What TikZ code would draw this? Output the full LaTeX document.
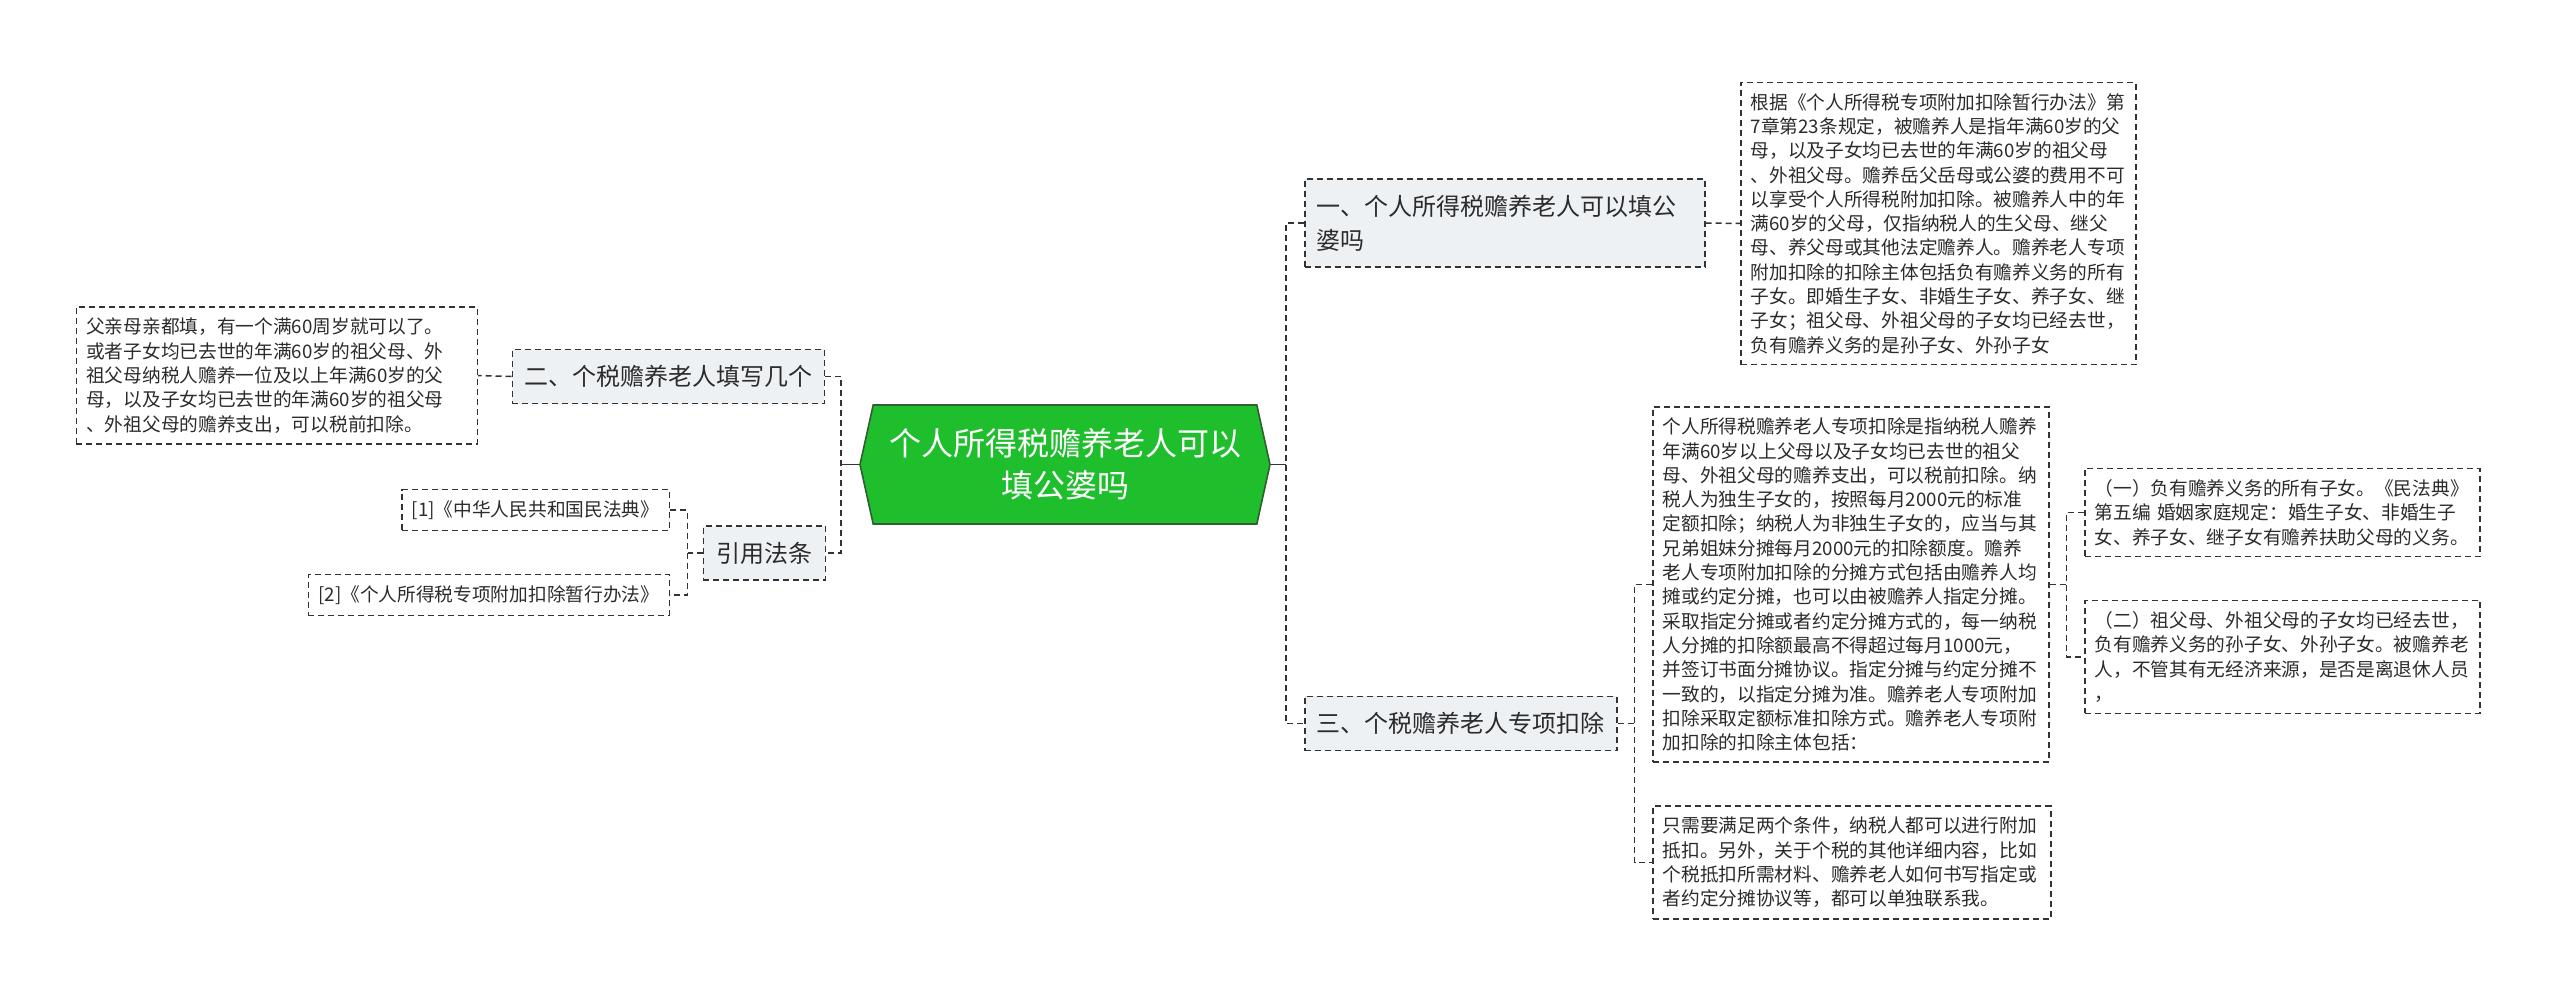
\documentclass[tikz,border=0pt]{standalone}
\usepackage{fontspec}
\setmainfont{Noto Sans CJK SC}
\usetikzlibrary{shapes.symbols}
\definecolor{brfill}{HTML}{EEF1F4}
\definecolor{rootgreen}{HTML}{1FBE2C}
\definecolor{rootline}{HTML}{2F5E30}
\definecolor{linkgray}{HTML}{333333}
\definecolor{txt}{HTML}{2B2B2B}

\begin{document}
\begin{tikzpicture}[x=1pt, y=-1pt,
  link/.style={draw=linkgray, line width=1.5pt, dash pattern=on 6pt off 4pt},
  leaf/.style={link, text=txt, align=left, inner xsep=10pt, inner ysep=11pt, font={\fontsize{18.7pt}{24.3pt}\selectfont}},
  branch/.style={leaf, fill=brfill, inner xsep=12pt, inner ysep=16pt, font={\fontsize{24pt}{34pt}\selectfont}},
  rootbox/.style={signal, signal to=east and west, signal pointer angle=155, draw=rootline, line width=1.6pt, fill=rootgreen, text=white, align=center, minimum width=410pt, minimum height=119pt, font={\fontsize{32pt}{42pt}\selectfont}}]
  \useasboundingbox (0,0) rectangle (2560,1001);

  \node[rootbox] (root) at (1065,464.5) {个人所得税赡养老人可以\\填公婆吗};

  \node[branch, anchor=west, text width=376pt] (yi) at (1304,223) {一、个人所得税赡养老人可以填公\\婆吗};
  \node[leaf, anchor=west, text width=375pt] (yitext) at (1740,223.5) {根据《个人所得税专项附加扣除暂行办法》第\\7章第23条规定，被赡养人是指年满60岁的父\\母，以及子女均已去世的年满60岁的祖父母\\、外祖父母。赡养岳父岳母或公婆的费用不可\\以享受个人所得税附加扣除。被赡养人中的年\\满60岁的父母，仅指纳税人的生父母、继父\\母、养父母或其他法定赡养人。赡养老人专项\\附加扣除的扣除主体包括负有赡养义务的所有\\子女。即婚生子女、非婚生子女、养子女、继\\子女；祖父母、外祖父母的子女均已经去世，\\负有赡养义务的是孙子女、外孙子女};

  \node[branch, anchor=west] (san) at (1304,723.5) {三、个税赡养老人专项扣除};
  \node[leaf, anchor=west, text width=376pt] (santext) at (1652,584.5) {个人所得税赡养老人专项扣除是指纳税人赡养\\年满60岁以上父母以及子女均已去世的祖父\\母、外祖父母的赡养支出，可以税前扣除。纳\\税人为独生子女的，按照每月2000元的标准\\定额扣除；纳税人为非独生子女的，应当与其\\兄弟姐妹分摊每月2000元的扣除额度。赡养\\老人专项附加扣除的分摊方式包括由赡养人均\\摊或约定分摊，也可以由被赡养人指定分摊。\\采取指定分摊或者约定分摊方式的，每一纳税\\人分摊的扣除额最高不得超过每月1000元，\\并签订书面分摊协议。指定分摊与约定分摊不\\一致的，以指定分摊为准。赡养老人专项附加\\扣除采取定额标准扣除方式。赡养老人专项附\\加扣除的扣除主体包括：};
  \node[leaf, anchor=west, text width=378pt] (sanmore) at (1652,862.5) {只需要满足两个条件，纳税人都可以进行附加\\抵扣。另外，关于个税的其他详细内容，比如\\个税抵扣所需材料、赡养老人如何书写指定或\\者约定分摊协议等，都可以单独联系我。};
  \node[leaf, anchor=west, text width=375pt] (zinv) at (2084,512.5) {（一）负有赡养义务的所有子女。《民法典》\\第五编 婚姻家庭规定：婚生子女、非婚生子\\女、养子女、继子女有赡养扶助父母的义务。};
  \node[leaf, anchor=west, text width=375pt] (sunzinv) at (2084,657) {（二）祖父母、外祖父母的子女均已经去世，\\负有赡养义务的孙子女、外孙子女。被赡养老\\人，不管其有无经济来源，是否是离退休人员\\，};

  \node[branch, anchor=east] (er) at (825,376.5) {二、个税赡养老人填写几个};
  \node[leaf, anchor=east, text width=381pt] (ertext) at (478,375.5) {父亲母亲都填，有一个满60周岁就可以了。\\或者子女均已去世的年满60岁的祖父母、外\\祖父母纳税人赡养一位及以上年满60岁的父\\母，以及子女均已去世的年满60岁的祖父母\\、外祖父母的赡养支出，可以税前扣除。};

  \node[branch, anchor=east, inner xsep=13pt] (law) at (826,553) {引用法条};
  \node[leaf, anchor=east, inner ysep=11pt] (law1) at (670,510) {[1]《中华人民共和国民法典》};
  \node[leaf, anchor=east, inner ysep=11pt] (law2) at (670,595) {[2]《个人所得税专项附加扣除暂行办法》};

  \draw[linkgray, line width=1.5pt] (root.west) -- ++(-18,0) coordinate (lj);
  \draw[linkgray, line width=1.5pt] (root.east) -- ++(15,0) coordinate (rj);
  \draw[link] (er.east) -| (lj) |- (law.east);
  \draw[link] (yi.west) -| (rj) |- (san.west);
  \draw[link] (yi.east) -- (yitext.west);
  \draw[link] (san.east) -- ++(17,0) coordinate (sj);
  \draw[link] (santext.west) -| (sj) |- (sanmore.west);
  \draw[link] (santext.east) -- ++(17,0) coordinate (tj);
  \draw[link] (zinv.west) -| (tj) |- (sunzinv.west);
  \draw[link] (er.west) -- (ertext.east);
  \draw[link] (law.west) -- ++(-15,0) coordinate (wj);
  \draw[link] (law1.east) -| (wj) |- (law2.east);
\end{tikzpicture}
\end{document}
